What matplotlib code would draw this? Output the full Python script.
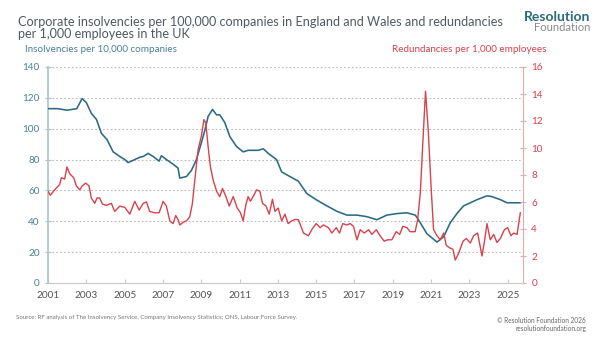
import matplotlib.pyplot as plt

# insolvencies per 10,000 companies (left axis)
ins_years = [2001.00, 2001.51, 2001.99, 2002.50, 2002.78, 2003.00, 2003.26, 2003.53, 2003.79,
             2004.08, 2004.40, 2004.75, 2005.01, 2005.18, 2005.53, 2005.79, 2005.97, 2006.23,
             2006.49, 2006.80, 2006.92, 2007.18, 2007.53, 2007.79, 2007.88, 2008.23, 2008.49,
             2008.75, 2009.01, 2009.19, 2009.36, 2009.59, 2009.80, 2009.97, 2010.23, 2010.49,
             2010.84, 2011.19, 2011.45, 2011.98, 2012.24, 2012.50, 2012.93, 2013.20, 2013.63,
             2014.07, 2014.51, 2015.00, 2015.56, 2016.08, 2016.60, 2017.13, 2017.65, 2018.17,
             2018.69, 2019.22, 2019.74, 2020.18, 2020.44, 2020.78, 2021.31, 2021.66, 2022.00,
             2022.35, 2022.70, 2023.05, 2023.40, 2023.92, 2024.18, 2024.62, 2024.97, 2025.31,
             2025.66]
ins_values = [113, 113, 112, 113, 119.5, 117, 110, 106, 97,
              93, 85, 82, 80, 78, 80, 81.5, 82, 84,
              82, 79, 82.5, 80, 77, 74.5, 68, 69, 73,
              80, 91, 99, 108, 112.5, 109, 109, 104, 95,
              88.5, 85, 86, 86, 87, 84, 80, 72, 69,
              66, 58, 54, 50, 46.5, 44, 44, 43, 41,
              44, 45, 45.5, 44, 39, 32, 26.5, 30, 39,
              45, 50, 52, 54, 56.5, 56, 54, 52, 52,
              52]

# redundancies per 1,000 employees (right axis)
red_years = [2001.00, 2001.12, 2001.35, 2001.61, 2001.70, 2001.87, 2001.99, 2002.13, 2002.34,
             2002.48, 2002.66, 2002.79, 2002.97, 2003.14, 2003.26, 2003.44, 2003.56, 2003.70,
             2003.84, 2004.05, 2004.31, 2004.48, 2004.75, 2005.01, 2005.27, 2005.53, 2005.76,
             2005.97, 2006.14, 2006.31, 2006.57, 2006.80, 2007.01, 2007.18, 2007.36, 2007.53,
             2007.67, 2007.79, 2007.88, 2008.06, 2008.23, 2008.40, 2008.54, 2008.67, 2008.84,
             2009.01, 2009.14, 2009.24, 2009.36, 2009.48, 2009.62, 2009.80, 2009.97, 2010.11,
             2010.29, 2010.46, 2010.67, 2010.88, 2011.05, 2011.19, 2011.33, 2011.45, 2011.57,
             2011.71, 2011.89, 2012.06, 2012.20, 2012.38, 2012.55, 2012.72, 2012.85, 2013.02,
             2013.20, 2013.37, 2013.54, 2013.72, 2013.89, 2014.07, 2014.34, 2014.60, 2014.77,
             2015.00, 2015.21, 2015.38, 2015.64, 2015.82, 2016.05, 2016.22, 2016.39, 2016.60,
             2016.78, 2016.95, 2017.13, 2017.30, 2017.51, 2017.74, 2017.91, 2018.14, 2018.34,
             2018.55, 2018.73, 2018.95, 2019.18, 2019.36, 2019.53, 2019.74, 2019.91, 2020.17,
             2020.30, 2020.44, 2020.57, 2020.71, 2020.85, 2020.99, 2021.13, 2021.31, 2021.48,
             2021.66, 2021.79, 2021.97, 2022.14, 2022.26, 2022.44, 2022.67, 2022.84, 2023.05,
             2023.22, 2023.43, 2023.66, 2023.80, 2023.92, 2024.09, 2024.27, 2024.44, 2024.62,
             2024.83, 2025.00, 2025.17, 2025.31, 2025.49, 2025.66]
red_values = [6.8, 6.5, 6.9, 7.3, 7.8, 7.7, 8.6, 8.1, 7.8,
              7.2, 6.9, 7.2, 7.4, 7.2, 6.3, 5.9, 6.3, 6.3,
              5.85, 5.75, 5.9, 5.3, 5.7, 5.6, 5.1, 6.05, 5.4,
              5.9, 6.0, 5.3, 5.2, 5.2, 6.05, 5.7, 4.6, 4.4,
              5.0, 4.7, 4.3, 4.5, 4.6, 4.9, 5.9, 7.7, 9.9,
              10.9, 12.1, 11.85, 10.1, 8.6, 7.65, 6.8, 6.4, 7.0,
              6.4, 5.7, 6.4, 5.55, 5.2, 4.6, 5.8, 6.4, 6.05,
              6.4, 6.9, 6.8, 5.9, 5.7, 5.1, 6.2, 5.3, 5.55,
              4.6, 5.1, 4.4, 4.6, 4.7, 4.7, 3.7, 3.5, 3.95,
              4.4, 4.1, 4.3, 4.1, 3.7, 4.1, 3.7, 4.4, 4.3,
              4.4, 4.2, 3.2, 3.95, 3.7, 3.95, 3.6, 3.95, 3.5,
              3.1, 3.2, 3.2, 3.8, 3.6, 4.2, 4.1, 3.8, 3.8,
              4.7, 6.7, 10.4, 14.2, 11.4, 7.4, 3.95, 3.5, 3.2,
              3.7, 2.8, 2.6, 2.5, 1.7, 2.2, 3.1, 3.3, 2.96,
              3.5, 3.7, 2.0, 3.2, 4.4, 3.2, 3.6, 3.0, 3.3,
              3.95, 4.1, 3.5, 3.7, 3.6, 5.2]

left_ticks = [0, 20, 40, 60, 80, 100, 120, 140]
right_ticks = [0, 2, 4, 6, 8, 10, 12, 14, 16]
x_ticks = list(range(2001, 2026, 2))

BLUE = '#2b6a86'
RED = '#d8424c'
BLUE_TXT = '#4a819b'
GREY = '#555555'

plt.rcParams['font.family'] = ['Lato', 'DejaVu Sans']

W, H = 602, 339
fig = plt.figure(figsize=(W / 100, H / 100), dpi=100)
ax = fig.add_axes([48 / W, 1 - 283 / H, (523 - 48) / W, (283 - 67) / H])
ax2 = ax.twinx()

ax.plot(ins_years, ins_values, color=BLUE, lw=1.15, zorder=3)
ax2.plot(red_years, red_values, color=RED, lw=1.0, zorder=2)

ax.set_xlim(2001, 2025.8)
ax.set_ylim(0, 140)
ax2.set_ylim(0, 16)
ax.set_xticks(x_ticks)
ax.set_xticklabels([str(y) for y in x_ticks])
ax.set_yticks(left_ticks)
ax2.set_yticks(right_ticks)

for y in left_ticks[1:]:
    ax.axhline(y, color='#bbbbbb', lw=0.8, ls=(0, (1.5, 2)), zorder=1)

ax.tick_params(axis='x', colors='#cccccc', labelcolor=GREY, labelsize=7.2, length=3,
               direction='in', pad=6)
ax.tick_params(axis='y', colors='#a9c4cc', labelcolor=BLUE_TXT, labelsize=7.2, length=4,
               direction='inout', pad=4)
ax2.tick_params(axis='y', colors='#e3a9ad', labelcolor=RED, labelsize=7.2, length=4,
                direction='inout', pad=4)

for a in (ax, ax2):
    a.spines['top'].set_visible(False)
    a.spines['bottom'].set_color('#cccccc')
ax.spines['left'].set_color('#a9c4cc')
ax.spines['left'].set_linewidth(1.2)
ax.spines['right'].set_visible(False)
ax2.spines['left'].set_visible(False)
ax2.spines['right'].set_color('#e3a9ad')

TITLE_C = '#4f5a60'
fig.text(18 / W, 1 - 22 / H,
         'Corporate insolvencies per 100,000 companies in England and Wales and redundancies',
         ha='left', va='center', fontsize=9.1, color=TITLE_C)
fig.text(18 / W, 1 - 34 / H, 'per 1,000 employees in the UK',
         ha='left', va='center', fontsize=9.1, color=TITLE_C)
fig.text(25 / W, 1 - 50 / H, 'Insolvencies per 10,000 companies', ha='left', va='center',
         fontsize=7.1, color=BLUE_TXT)
fig.text(546 / W, 1 - 50 / H, 'Redundancies per 1,000 employees', ha='right', va='center',
         fontsize=7.1, color=RED)

fig.text(590 / W, 1 - 17 / H, 'Resolution', ha='right', va='center', fontsize=10,
         fontweight='bold', color='#2a6b79')
fig.text(590 / W, 1 - 27.5 / H, 'Foundation', ha='right', va='center', fontsize=8,
         color='#8a8a8a')

fig.text(16 / W, 1 - 318 / H,
         'Source: RF analysis of The Insolvency Service, Company Insolvency Statistics; ONS, Labour Force Survey.',
         ha='left', va='center', fontsize=4.4, color='#777777')
fig.text(586 / W, 1 - 320.5 / H, '\u00a9 Resolution Foundation 2026', ha='right', va='center',
         fontsize=4.7, color='#666666')
fig.text(586 / W, 1 - 328 / H, 'resolutionfoundation.org', ha='right', va='center',
         fontsize=4.7, color='#666666')

fig.savefig('out.png', dpi=100)
